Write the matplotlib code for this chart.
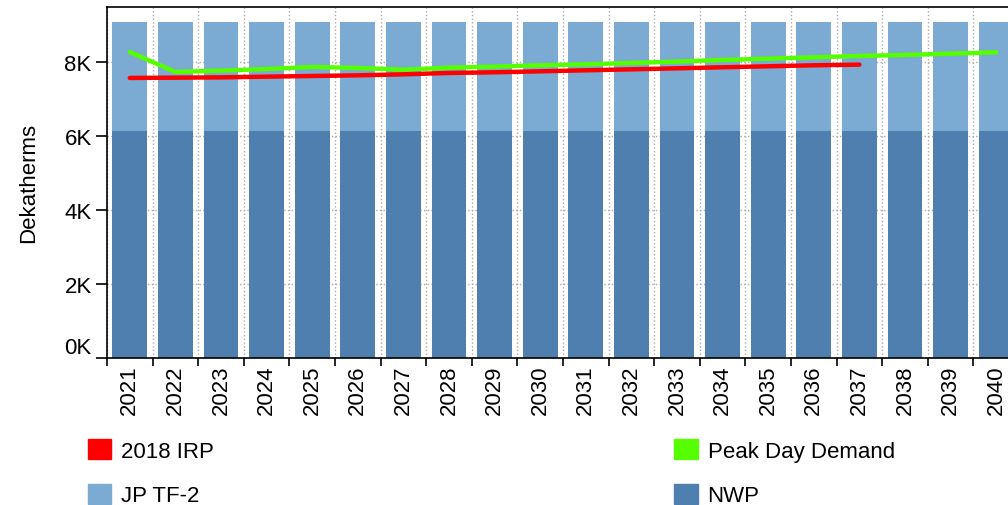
import matplotlib.pyplot as plt
from matplotlib.patches import Patch

plt.rcParams['font.family'] = ['Liberation Sans', 'DejaVu Sans']

years = [str(y) for y in range(2021, 2041)]
nwp = [6150] * 20
jp_tf2 = [2930] * 20
peak_day = [8280, 7740, 7775, 7820, 7875, 7848, 7800, 7856, 7883, 7920,
            7946, 7983, 8020, 8065, 8100, 8136, 8173, 8200, 8236, 8272]
irp_2018 = [7577, 7585, 7593, 7612, 7630, 7648, 7675, 7712, 7730, 7757,
            7784, 7811, 7838, 7866, 7893, 7920, 7938]
y_ticks = [0, 2000, 4000, 6000, 8000]
y_labels = ['0K', '2K', '4K', '6K', '8K']

light = '#7BAAD2'
dark = '#4F7FAF'
red = '#FF0000'
green = '#55FF00'

fig = plt.figure(figsize=(10.08, 5.06), dpi=100)
ax = fig.add_axes([107 / 1008, 147.5 / 506, 912 / 1008, 350.5 / 506])

x = list(range(len(years)))
ax.bar(x, nwp, width=0.76, color=dark, zorder=2)
ax.bar(x, jp_tf2, bottom=nwp, width=0.76, color=light, zorder=2)
ax.plot(x, peak_day, color=green, lw=3.2, zorder=3, solid_capstyle='round')
ax.plot(x[:len(irp_2018)], irp_2018, color=red, lw=3.2, zorder=4, solid_capstyle='round')

ax.set_xlim(-0.5, len(years) - 0.5)
ax.set_ylim(0, 9500)
ax.set_xticks(x)
ax.set_xticklabels(years, rotation=90, fontsize=16)
ax.tick_params(axis='x', which='major', length=0, pad=5)
ax.set_xticks([i - 0.5 for i in range(len(years) + 1)], minor=True)
ax.tick_params(axis='x', which='minor', length=6, width=1.2)
ax.set_yticks(y_ticks)
ax.set_yticklabels(y_labels, fontsize=16)
ax.get_yticklabels()[0].set_va('bottom')
ax.tick_params(axis='y', length=8, width=1.2, pad=3)
ax.grid(True, which='minor', axis='x', linestyle=':', color='#aaaaaa', lw=1, zorder=0)
ax.grid(True, which='major', axis='y', linestyle=':', color='#aaaaaa', lw=1, zorder=0)
ax.set_axisbelow(True)
ax.set_ylabel('Dekatherms', fontsize=16, labelpad=18)
for s in ax.spines.values():
    s.set_linewidth(1.2)

handles = [Patch(color=red), Patch(color=light), Patch(color=green), Patch(color=dark)]
labels = ['2018 IRP', 'JP TF-2', 'Peak Day Demand', 'NWP']
fig.legend(handles, labels, ncol=2, loc='upper left', bbox_to_anchor=(68 / 1008, 1 - 420 / 506),
           frameon=False, fontsize=16, handlelength=1.05, handleheight=1.0,
           handletextpad=0.45, labelspacing=1.0, columnspacing=20.7)

fig.savefig('out.png', dpi=100)
